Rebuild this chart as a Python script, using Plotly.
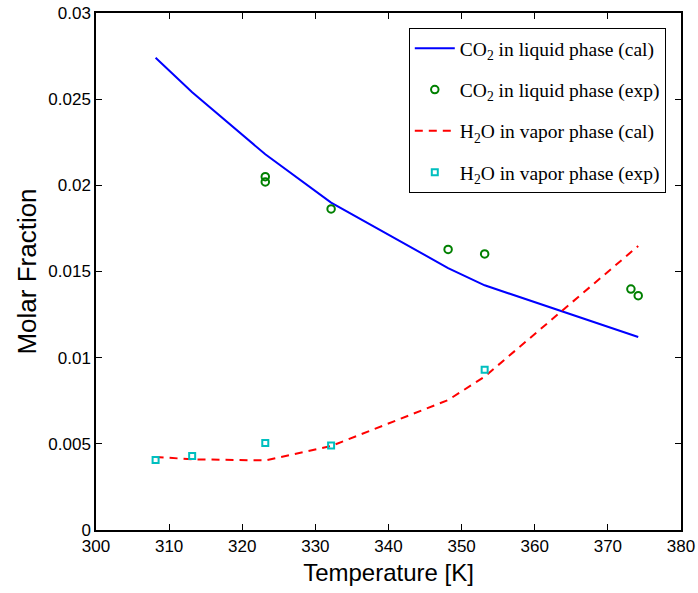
import plotly.graph_objects as go

# Calculated curves
T_cal = [308.15, 313.15, 323.15, 332.15, 348.15, 353.15, 374.15]
co2_liq_cal = [0.0274, 0.0254, 0.0218, 0.0190, 0.0152, 0.0142, 0.0112]
h2o_vap_cal = [0.00424, 0.0041, 0.00404, 0.00487, 0.00754, 0.0089, 0.01648]

# Experimental points
T_co2_exp = [323.15, 323.15, 332.15, 348.15, 353.15, 373.15, 374.15]
co2_liq_exp = [0.0205, 0.0202, 0.01863, 0.01628, 0.01602, 0.01398, 0.0136]
T_h2o_exp = [308.15, 313.15, 323.15, 332.15, 353.15]
h2o_vap_exp = [0.00406, 0.0043, 0.00505, 0.0049, 0.0093]

names = ["CO<sub>2</sub> in liquid phase (cal)", "CO<sub>2</sub> in liquid phase (exp)",
         "H<sub>2</sub>O in vapor phase (cal)", "H<sub>2</sub>O in vapor phase (exp)"]

fig = go.Figure()
fig.add_trace(go.Scatter(x=T_cal, y=co2_liq_cal, mode="lines", name=names[0], legendgroup="a",
                         line=dict(color="rgb(0,0,255)", width=2)))
fig.add_trace(go.Scatter(x=T_co2_exp, y=co2_liq_exp, mode="markers", name=names[1], legendgroup="b",
                         marker=dict(symbol="circle-open", size=7.5, color="rgb(0,128,0)", line=dict(width=2, color="rgb(0,128,0)"))))
fig.add_trace(go.Scatter(x=T_cal, y=h2o_vap_cal, mode="lines", name=names[2], legendgroup="c",
                         line=dict(color="rgb(255,0,0)", width=2, dash="8px,6px")))
fig.add_trace(go.Scatter(x=T_h2o_exp, y=h2o_vap_exp, mode="markers", name=names[3], legendgroup="d",
                         marker=dict(symbol="square-open", size=6, color="rgb(0,191,191)", line=dict(width=2, color="rgb(0,191,191)"))))

axis_common = dict(showline=True, linecolor="black", linewidth=1.5, mirror="ticks", ticks="inside",
                   ticklen=6, tickcolor="black", showgrid=False, zeroline=False, automargin=False,
                   tickfont=dict(family="Liberation Sans, Arial", size=17, color="black"))

fig.update_layout(
    width=698, height=593,
    margin=dict(l=96, r=17, t=13, b=63),
    plot_bgcolor="white", paper_bgcolor="white",
    xaxis=dict(range=[300, 380], dtick=10, tick0=300,
               title=dict(text="Temperature [K]", font=dict(family="Liberation Sans, Arial", size=24, color="black"), standoff=9),
               **axis_common),
    yaxis=dict(range=[0, 0.03], dtick=0.005, tick0=0, tickformat="~g",
               title=dict(text="Molar Fraction", font=dict(family="Liberation Sans, Arial", size=26, color="black"), standoff=4),
               **axis_common),
    legend=dict(x=0.974, y=0.971, xanchor="right", yanchor="top", bgcolor="white",
                bordercolor="black", borderwidth=1, tracegroupgap=13, itemwidth=40,
                font=dict(family="Liberation Serif, Times New Roman", size=19.5, color="black")),
    showlegend=True,
)

fig.write_html("out.html")
